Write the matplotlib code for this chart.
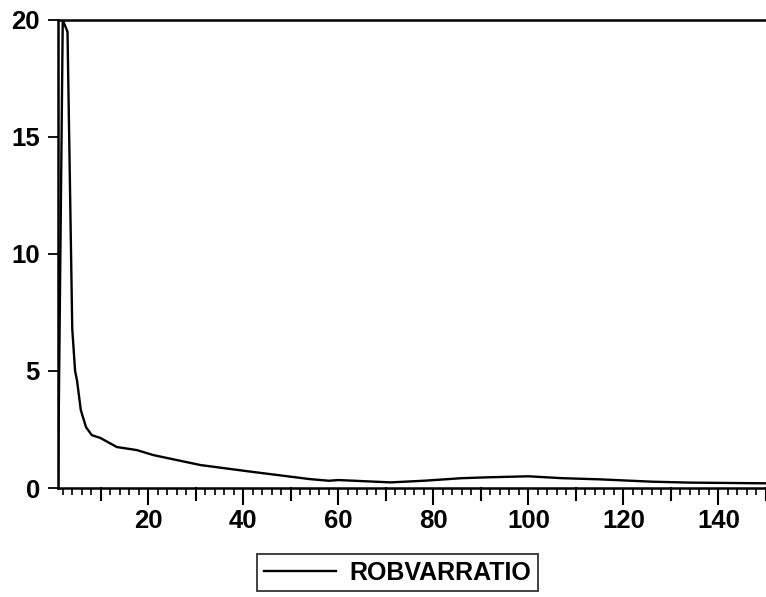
import matplotlib
matplotlib.use("Agg")
from matplotlib import pyplot as plt
from matplotlib.ticker import MultipleLocator

plt.rcParams['font.family'] = ['Liberation Sans', 'DejaVu Sans']
plt.rcParams['font.weight'] = 'bold'

# curve vertices
obs = [1, 2, 3, 4, 4.6, 5, 5.8, 6.9, 8.1, 9.9, 13.4, 17.6, 21, 24,
       31, 41.5, 54, 58, 60, 71, 78, 86, 92, 100, 107, 115, 126, 134, 150]
robvarratio = [0.0, 20.0, 19.5, 6.8, 5.0, 4.6, 3.33, 2.6, 2.26, 2.14, 1.75, 1.62, 1.41, 1.28,
               0.98, 0.70, 0.38, 0.31, 0.34, 0.24, 0.31, 0.42, 0.46, 0.50, 0.42, 0.37, 0.27, 0.23, 0.20]

yticks = [0, 5, 10, 15, 20]
xticks = [20, 40, 60, 80, 100, 120, 140]

fig = plt.figure(figsize=(7.66, 5.97), dpi=100)
ax = fig.add_axes([58 / 766, 1 - 488 / 597, 1 - 58 / 766, (488 - 20) / 597])

line, = ax.plot(obs, robvarratio, color='black', lw=1.7, label='ROBVARRATIO')

ax.set_xlim(1, 150)
ax.set_ylim(0, 20)
ax.set_yticks(yticks)
ax.set_xticks(xticks)
ax.xaxis.set_minor_locator(MultipleLocator(2))

for s in ['top', 'left', 'bottom']:
    ax.spines[s].set_linewidth(1.8)
    ax.spines[s].set_color('black')
ax.spines['right'].set_visible(False)

ax.tick_params(axis='y', direction='out', length=7, width=1.3, pad=6, labelsize=18.5)
ax.tick_params(axis='x', which='major', direction='out', length=12, width=1.5, pad=3, labelsize=18.5)
ax.tick_params(axis='x', which='minor', direction='out', length=5, width=1.2)
# long ticks at every 10
for v in range(10, 151, 20):
    ax.plot([v, v], [0, -12 * 20 / 468], color='black', lw=1.5, clip_on=False)

leg = fig.legend(handles=[line], loc='center', bbox_to_anchor=(397.5 / 766, 1 - 572.5 / 597),
                 fontsize=18, frameon=True, fancybox=False, handlelength=2.9,
                 handletextpad=0.55, borderpad=0.25)
leg.get_frame().set_edgecolor('black')
leg.get_frame().set_linewidth(1.3)

fig.savefig('out.png', dpi=100)
